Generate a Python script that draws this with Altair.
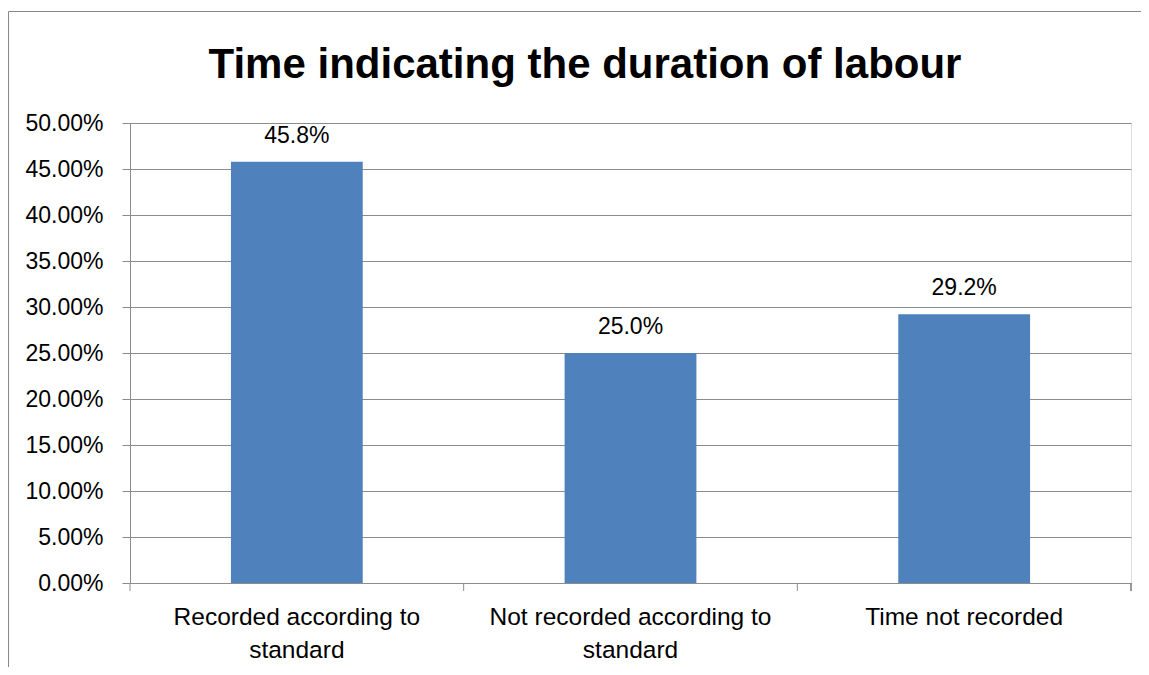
import altair as alt
import pandas as pd

categories = ["Recorded according to standard", "Not recorded according to standard", "Time not recorded"]
label_lines = [["Recorded according to", "standard"], ["Not recorded according to", "standard"], ["Time not recorded"]]
values = [0.458, 0.250, 0.292]
title_text = "Time indicating the duration of labour"

FONT = "Liberation Sans"
GRID = "#8c8c8c"
BAR = "#4F81BD"
W, H = 1001, 460

df = pd.DataFrame({"cat": categories, "val": values})

# label expression built from the lines lists
parts = []
for c, lines in zip(categories, label_lines):
    arr = "[" + ",".join("'" + l + "'" for l in lines) + "]"
    parts.append(f"datum.value == '{c}' ? {arr} : ")
label_expr = "".join(parts) + "datum.label"

xenc = alt.X("cat:N", sort=categories,
             scale=alt.Scale(paddingInner=0, paddingOuter=0),
             axis=alt.Axis(title=None, labelAngle=0, ticks=False, labelFontSize=24.5,
                           labelFont=FONT, labelColor="#000000", labelLineHeight=33,
                           labelPadding=22, labelExpr=label_expr, domainColor=GRID,
                           domainWidth=1, labelLimit=400))
yenc = alt.Y("val:Q", scale=alt.Scale(domain=[0, 0.5], nice=False, zero=True),
             axis=alt.Axis(title=None, format=".2%", values=[i * 0.05 for i in range(11)],
                           labelFontSize=23, labelFont=FONT, labelColor="#000000",
                           tickSize=8, tickColor=GRID, gridColor=GRID, grid=True,
                           domainColor=GRID, labelPadding=19))

base = alt.Chart(df)

bars = base.mark_bar(color=BAR, width={"band": 0.395}).encode(x=xenc, y=yenc)

labels = base.mark_text(font=FONT, fontSize=23, baseline="alphabetic", dy=-19, color="#000000").encode(
    x=alt.X("cat:N", sort=categories), y="val:Q", text=alt.Text("val:Q", format=".1%"))

xticks = base.mark_rule(color=GRID, strokeWidth=1).encode(
    x=alt.X("cat:N", sort=categories, bandPosition=0), y=alt.value(H), y2=alt.value(H + 8))

last_tick = base.mark_rule(color=GRID, strokeWidth=1).encode(
    x=alt.value(W), y=alt.value(H), y2=alt.value(H + 8))

title = alt.Chart(pd.DataFrame({"t": [title_text]})).mark_text(
    font=FONT, fontSize=42, fontWeight="bold", baseline="alphabetic", align="center", color="#000000"
).encode(x=alt.value(455), y=alt.value(-45), text="t:N")

frame_left = alt.Chart(pd.DataFrame({"a": [0]})).mark_rule(color="#888888", strokeWidth=1).encode(
    x=alt.value(-121.5), y=alt.value(-111.5), y2=alt.value(545))
frame_top = alt.Chart(pd.DataFrame({"a": [0]})).mark_rule(color="#888888", strokeWidth=1).encode(
    x=alt.value(-121.5), x2=alt.value(W + 12), y=alt.value(-111.5))

chart = alt.layer(bars, labels, xticks, last_tick, title, frame_left, frame_top).properties(
    width=W, height=H,
    autosize=alt.AutoSizeParams(type="none"),
    padding={"left": 122, "top": 115, "right": 10, "bottom": 84},
).configure_view(stroke=None).configure(background="white")

chart.save("out.html", embed_options={"renderer": "svg", "actions": False})
